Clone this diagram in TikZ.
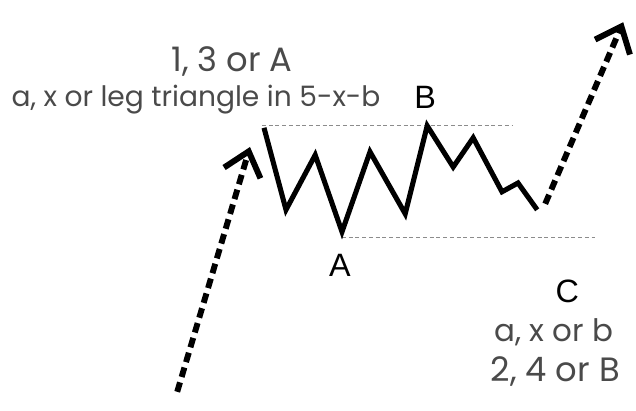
\documentclass[tikz,border=0pt]{standalone}
\usepackage{fontspec}
\setmainfont{Poppins}
\newfontfamily\tagfont{Liberation Sans}
\usepackage{xcolor}
\definecolor{noteGray}{HTML}{4A4A4A}
\definecolor{levelGray}{HTML}{8C8C8C}
\usepackage{tikz}
\usetikzlibrary{arrows.meta}
\tikzset{
  wavepath/.style={
    draw=black,
    line width=3.6pt,
    line join=miter
  },
  trendarrow/.style={
    draw=black,
    line width=4.2pt,
    dash pattern=on 7pt off 4pt,
    -{Straight Barb[length=16pt,width=27pt]}
  },
  levelline/.style={
    draw=levelGray,
    line width=0.6pt,
    dash pattern=on 2.8pt off 2pt
  },
  notetext/.style={
    text=noteGray,
    font=\fontsize{20}{24}\selectfont,
    inner sep=0pt
  },
  notebig/.style={
    notetext,
    font=\fontsize{24}{28}\selectfont
  },
  lettertag/.style={
    text=black,
    font=\tagfont\fontsize{23}{27}\selectfont,
    inner sep=0pt
  }
}
\begin{document}
\begin{tikzpicture}[x=1cm,y=1cm]
  \useasboundingbox (0,0) rectangle (15.9,10.275);
  % corrective wave points
  \coordinate (w0) at (6.6,7.08);
  \coordinate (w1) at (7.15,5.03);
  \coordinate (w2) at (7.88,6.4);
  \coordinate (w3) at (8.55,4.48);
  \coordinate (w4) at (9.25,6.48);
  \coordinate (w5) at (10.13,4.93);
  \coordinate (w6) at (10.68,7.13);
  \coordinate (w7) at (11.33,6.1);
  \coordinate (w8) at (11.83,6.83);
  \coordinate (w9) at (12.55,5.48);
  \coordinate (w10) at (12.95,5.7);
  \coordinate (w11) at (13.43,5.03);
  % trend legs
  \coordinate (inStart) at (4.43,0.48);
  \coordinate (inEnd) at (6.25,6.6);
  \coordinate (outStart) at (13.63,5.18);
  \coordinate (outEnd) at (15.58,9.72);
  % range levels
  \coordinate (topL) at (6.55,7.15);
  \coordinate (topR) at (12.8,7.15);
  \coordinate (botL) at (8.55,4.35);
  \coordinate (botR) at (14.88,4.35);

  \draw[levelline] (topL) -- (topR);
  \draw[levelline] (botL) -- (botR);
  \draw[trendarrow] (inStart) -- (inEnd);
  \draw[trendarrow] (outStart) -- (outEnd);
  \draw[wavepath] (w0) -- (w1) -- (w2) -- (w3) -- (w4) -- (w5) -- (w6)
    -- (w7) -- (w8) -- (w9) -- (w10) -- (w11);

  \node[notebig] (degree) at (5.8,8.75) {1, 3 or A};
  \node[notetext] (context) at (4.9,7.78) {a, x or leg triangle in 5-x-b};
  \node[lettertag] (tagB) at (10.63,7.85) {B};
  \node[lettertag] (tagA) at (8.5,3.65) {A};
  \node[lettertag] (tagC) at (14.18,2.98) {C};
  \node[notetext,font=\fontsize{22}{26}\selectfont] (cwave) at (13.85,1.98) {a, x or b};
  \node[notebig] (cdegree) at (13.88,0.98) {2, 4 or B};
\end{tikzpicture}
\end{document}
